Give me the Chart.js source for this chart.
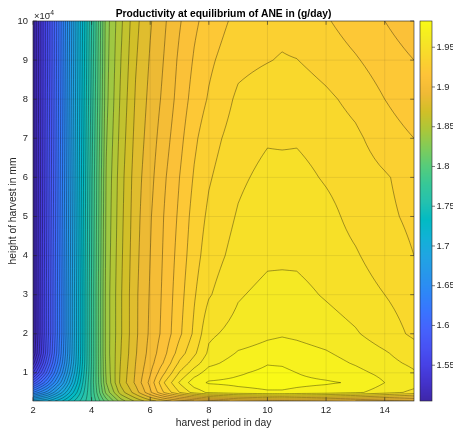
<!DOCTYPE html>
<html>
<head>
<meta charset="utf-8">
<script src="https://cdn.jsdelivr.net/npm/chart.js@4.4.1/dist/chart.umd.min.js"></script>
<style>
  body { margin: 0; background: #fff; }
  canvas { display: block; }
</style>
</head>
<body>
<canvas id="chart" width="453" height="428"></canvas>
<script>
// harvest period (day) along x, harvest height (x1e-4 mm) along y
const harvestPeriod = [2, 2.5, 3, 3.5, 4, 4.5, 5, 5.5, 6, 6.5, 7, 7.5, 8, 9, 10, 10.5, 11, 12, 13, 14, 15];
const harvestHeight = [0.28, 0.5, 0.75, 1, 1.25, 1.5, 2, 3, 4, 5, 6, 7, 8, 9, 10];

// productivity at equilibrium (g/day), one row per height, bottom to top
const productivity = [
  [1.700, 1.710, 1.730, 1.755, 1.780, 1.815, 1.845, 1.862, 1.876, 1.886, 1.895, 1.900, 1.905, 1.912, 1.915, 1.916, 1.915, 1.913, 1.910, 1.907, 1.905],
  [1.640, 1.665, 1.700, 1.740, 1.782, 1.833, 1.865, 1.885, 1.908, 1.932, 1.950, 1.964, 1.972, 1.977, 1.979, 1.979, 1.978, 1.976, 1.972, 1.965, 1.957],
  [1.590, 1.630, 1.675, 1.728, 1.783, 1.840, 1.873, 1.892, 1.913, 1.941, 1.961, 1.976, 1.981, 1.982, 1.983, 1.983, 1.982, 1.981, 1.979, 1.970, 1.965],
  [1.550, 1.605, 1.660, 1.720, 1.782, 1.842, 1.872, 1.891, 1.909, 1.930, 1.951, 1.965, 1.975, 1.979, 1.982, 1.982, 1.980, 1.977, 1.973, 1.967, 1.961],
  [1.525, 1.590, 1.650, 1.715, 1.781, 1.843, 1.871, 1.890, 1.906, 1.922, 1.942, 1.955, 1.967, 1.975, 1.9795, 1.979, 1.977, 1.974, 1.969, 1.963, 1.958],
  [1.510, 1.580, 1.645, 1.713, 1.781, 1.844, 1.870, 1.889, 1.904, 1.918, 1.935, 1.948, 1.962, 1.971, 1.974, 1.975, 1.974, 1.971, 1.966, 1.961, 1.955],
  [1.506, 1.576, 1.642, 1.712, 1.781, 1.844, 1.869, 1.888, 1.902, 1.914, 1.928, 1.942, 1.958, 1.964, 1.968, 1.969, 1.968, 1.965, 1.961, 1.955, 1.948],
  [1.505, 1.576, 1.642, 1.712, 1.781, 1.844, 1.869, 1.888, 1.901, 1.913, 1.926, 1.939, 1.949, 1.959, 1.963, 1.9635, 1.963, 1.959, 1.955, 1.950, 1.945],
  [1.505, 1.575, 1.641, 1.711, 1.780, 1.843, 1.868, 1.887, 1.900, 1.912, 1.924, 1.936, 1.945, 1.954, 1.958, 1.958, 1.958, 1.955, 1.951, 1.945, 1.940],
  [1.505, 1.574, 1.640, 1.710, 1.779, 1.842, 1.867, 1.886, 1.899, 1.911, 1.922, 1.934, 1.942, 1.951, 1.957, 1.9575, 1.957, 1.953, 1.947, 1.942, 1.938],
  [1.505, 1.573, 1.639, 1.709, 1.778, 1.841, 1.866, 1.885, 1.897, 1.909, 1.920, 1.931, 1.939, 1.948, 1.953, 1.9535, 1.953, 1.949, 1.945, 1.941, 1.936],
  [1.505, 1.572, 1.638, 1.708, 1.776, 1.839, 1.864, 1.883, 1.895, 1.906, 1.917, 1.928, 1.936, 1.945, 1.949, 1.9485, 1.949, 1.946, 1.942, 1.935, 1.930],
  [1.505, 1.571, 1.637, 1.707, 1.774, 1.837, 1.862, 1.881, 1.893, 1.903, 1.914, 1.924, 1.931, 1.942, 1.946, 1.9465, 1.946, 1.942, 1.937, 1.930, 1.924],
  [1.505, 1.570, 1.636, 1.706, 1.772, 1.836, 1.860, 1.879, 1.891, 1.901, 1.912, 1.921, 1.928, 1.937, 1.9395, 1.9408, 1.9402, 1.936, 1.931, 1.925, 1.920],
  [1.505, 1.570, 1.635, 1.705, 1.770, 1.835, 1.858, 1.877, 1.889, 1.899, 1.909, 1.918, 1.924, 1.933, 1.936, 1.937, 1.935, 1.931, 1.925, 1.920, 1.914]
];

const xTicks = [2, 4, 6, 8, 10, 12, 14];
const yTicks = [1, 2, 3, 4, 5, 6, 7, 8, 9, 10];
const colorbarTicks = [1.55, 1.6, 1.65, 1.7, 1.75, 1.8, 1.85, 1.9, 1.95];
const zMin = 1.505, zMax = 1.983;
const levels = [];
for (let k = 151; k <= 198; k++) levels.push(k / 100);

// parula(64), every 3rd row: [row index, r, g, b]
const parula = [
  [0, 0.2422, 0.1504, 0.6603], [3, 0.2647, 0.1978, 0.7952], [6, 0.2783, 0.2559, 0.8991],
  [9, 0.2810, 0.3228, 0.9579], [12, 0.2699, 0.3892, 0.9906], [15, 0.2206, 0.4603, 0.9973],
  [18, 0.1786, 0.5289, 0.9682], [21, 0.1540, 0.5902, 0.9218], [24, 0.1248, 0.6459, 0.8883],
  [27, 0.0689, 0.6948, 0.8394], [30, 0.0067, 0.7312, 0.7660], [33, 0.1408, 0.7584, 0.6842],
  [36, 0.2161, 0.7843, 0.5923], [39, 0.3406, 0.8008, 0.4789], [42, 0.5044, 0.7993, 0.3480],
  [45, 0.6720, 0.7793, 0.2227], [48, 0.8203, 0.7498, 0.1535], [51, 0.9393, 0.7288, 0.2100],
  [54, 0.9970, 0.7659, 0.2199], [57, 0.9786, 0.8386, 0.1766], [60, 0.9597, 0.9135, 0.1423],
  [63, 0.9769, 0.9839, 0.0805]
];

function parulaRGB(f) {
  const p = Math.min(63, Math.max(0, f * 63));
  let k = 0;
  while (k < parula.length - 2 && parula[k + 1][0] < p) k++;
  const a = parula[k], b = parula[k + 1];
  const t = (p - a[0]) / (b[0] - a[0]);
  return [1, 2, 3].map(c => Math.round(255 * (a[c] + (b[c] - a[c]) * t)));
}

function locate(arr, v) {
  const n = arr.length - 1;
  if (v <= arr[0]) return [0, 0];
  if (v >= arr[n]) return [n - 1, 1];
  let i = 0;
  while (arr[i + 1] < v) i++;
  return [i, (v - arr[i]) / (arr[i + 1] - arr[i])];
}

function sample(xv, yv) {
  const [i, tx] = locate(harvestPeriod, xv);
  const [j, ty] = locate(harvestHeight, yv);
  const r0 = productivity[j], r1 = productivity[j + 1];
  return (r0[i] * (1 - tx) + r0[i + 1] * tx) * (1 - ty) + (r1[i] * (1 - tx) + r1[i + 1] * tx) * ty;
}

function bandRGB(z) {
  let lv = zMin;
  for (const L of levels) if (z >= L) lv = L;
  return parulaRGB((lv - zMin) / (zMax - zMin));
}

const ink = '#262626';
const fontFamily = '"Liberation Sans", Arial, Helvetica, sans-serif';

const contourPlugin = {
  id: 'contourf',
  beforeDatasetsDraw(chart) {
    const { ctx, chartArea: a, scales: { x, y } } = chart;
    const left = Math.round(a.left), top = Math.round(a.top);
    const w = Math.round(a.right) - left, h = Math.round(a.bottom) - top;
    const img = ctx.createImageData(w, h);
    const xs = [];
    for (let px = 0; px < w; px++) xs.push(x.getValueForPixel(left + px + 0.5));
    for (let py = 0; py < h; py++) {
      const yv = y.getValueForPixel(top + py + 0.5);
      for (let px = 0; px < w; px++) {
        const c = bandRGB(sample(xs[px], yv));
        const o = (py * w + px) * 4;
        img.data[o] = c[0]; img.data[o + 1] = c[1]; img.data[o + 2] = c[2]; img.data[o + 3] = 255;
      }
    }
    ctx.putImageData(img, left, top);
  },
  afterDatasetsDraw(chart) {
    const { ctx, chartArea: a, scales: { x, y } } = chart;
    const S = 6;
    ctx.save();
    ctx.beginPath();
    ctx.rect(a.left, a.top, a.right - a.left, a.bottom - a.top);
    ctx.clip();

    // contour lines (marching squares on a refined grid)
    ctx.beginPath();
    for (let j = 0; j < harvestHeight.length - 1; j++) {
      for (let i = 0; i < harvestPeriod.length - 1; i++) {
        const xa = harvestPeriod[i], xb = harvestPeriod[i + 1];
        const ya = harvestHeight[j], yb = harvestHeight[j + 1];
        const z00 = productivity[j][i], z10 = productivity[j][i + 1];
        const z01 = productivity[j + 1][i], z11 = productivity[j + 1][i + 1];
        const f = (u, v) => (z00 * (1 - u) + z10 * u) * (1 - v) + (z01 * (1 - u) + z11 * u) * v;
        for (let sj = 0; sj < S; sj++) {
          for (let si = 0; si < S; si++) {
            const u0 = si / S, u1 = (si + 1) / S, v0 = sj / S, v1 = (sj + 1) / S;
            const P = [
              [xa + (xb - xa) * u0, ya + (yb - ya) * v0, f(u0, v0)],
              [xa + (xb - xa) * u1, ya + (yb - ya) * v0, f(u1, v0)],
              [xa + (xb - xa) * u1, ya + (yb - ya) * v1, f(u1, v1)],
              [xa + (xb - xa) * u0, ya + (yb - ya) * v1, f(u0, v1)]
            ];
            const lo = Math.min(P[0][2], P[1][2], P[2][2], P[3][2]);
            const hi = Math.max(P[0][2], P[1][2], P[2][2], P[3][2]);
            for (const L of levels) {
              if (L <= lo || L > hi) continue;
              const up = P.map(p => p[2] >= L);
              const cross = [];
              for (let e = 0; e < 4; e++) {
                const p = P[e], q = P[(e + 1) % 4];
                if (up[e] !== up[(e + 1) % 4]) {
                  const t = (L - p[2]) / (q[2] - p[2]);
                  cross[e] = [x.getPixelForValue(p[0] + (q[0] - p[0]) * t), y.getPixelForValue(p[1] + (q[1] - p[1]) * t)];
                }
              }
              const ids = [0, 1, 2, 3].filter(e => cross[e]);
              let pairs = [];
              if (ids.length === 2) pairs = [ids];
              else if (ids.length === 4) {
                const zc = (P[0][2] + P[1][2] + P[2][2] + P[3][2]) / 4;
                pairs = ((zc >= L) === up[0]) ? [[0, 1], [2, 3]] : [[3, 0], [1, 2]];
              }
              for (const [m, n] of pairs) {
                ctx.moveTo(cross[m][0], cross[m][1]);
                ctx.lineTo(cross[n][0], cross[n][1]);
              }
            }
          }
        }
      }
    }
    ctx.strokeStyle = 'rgba(0,0,0,0.65)';
    ctx.lineWidth = 0.55;
    ctx.stroke();

    // grid
    ctx.beginPath();
    for (const t of xTicks) {
      const px = x.getPixelForValue(t);
      ctx.moveTo(px, a.top); ctx.lineTo(px, a.bottom);
    }
    for (const t of yTicks) {
      const py = y.getPixelForValue(t);
      ctx.moveTo(a.left, py); ctx.lineTo(a.right, py);
    }
    ctx.strokeStyle = 'rgba(38,38,38,0.15)';
    ctx.lineWidth = 0.6;
    ctx.stroke();
    ctx.restore();

    // box and inward ticks
    ctx.save();
    ctx.strokeStyle = ink;
    ctx.lineWidth = 0.6;
    ctx.strokeRect(a.left, a.top, a.right - a.left, a.bottom - a.top);
    ctx.beginPath();
    const tl = 3.8;
    for (const t of xTicks) {
      const px = x.getPixelForValue(t);
      ctx.moveTo(px, a.bottom); ctx.lineTo(px, a.bottom - tl);
      ctx.moveTo(px, a.top); ctx.lineTo(px, a.top + tl);
    }
    for (const t of yTicks) {
      const py = y.getPixelForValue(t);
      ctx.moveTo(a.left, py); ctx.lineTo(a.left + tl, py);
      ctx.moveTo(a.right, py); ctx.lineTo(a.right - tl, py);
    }
    ctx.stroke();

    // colorbar
    const cbL = 420, cbR = 432, cbT = a.top, cbB = a.bottom;
    const cbY = v => cbB - (v - zMin) / (zMax - zMin) * (cbB - cbT);
    for (let py = Math.floor(cbT); py < cbB; py++) {
      const v = zMin + (cbB - (py + 0.5)) / (cbB - cbT) * (zMax - zMin);
      const c = parulaRGB((v - zMin) / (zMax - zMin));
      ctx.fillStyle = `rgb(${c[0]},${c[1]},${c[2]})`;
      ctx.fillRect(cbL, py, cbR - cbL, 1);
    }
    ctx.strokeRect(cbL, cbT, cbR - cbL, cbB - cbT);
    ctx.beginPath();
    for (const t of colorbarTicks) {
      ctx.moveTo(cbR, cbY(t)); ctx.lineTo(cbR + 3, cbY(t));
    }
    ctx.stroke();
    ctx.fillStyle = ink;
    ctx.font = `9.4px ${fontFamily}`;
    ctx.textAlign = 'left';
    ctx.textBaseline = 'middle';
    for (const t of colorbarTicks) ctx.fillText(t.toFixed(2).replace(/0$/, ''), cbR + 4.5, cbY(t));

    // titles
    ctx.textBaseline = 'alphabetic';
    ctx.textAlign = 'center';
    ctx.font = `bold 10.3px ${fontFamily}`;
    ctx.fillStyle = '#000';
    ctx.fillText('Productivity at equilibrium of ANE in (g/day)', (a.left + a.right) / 2, 16.8);
    ctx.fillStyle = ink;
    ctx.font = `10.3px ${fontFamily}`;
    ctx.fillText('harvest period in day', (a.left + a.right) / 2, 425.5);
    ctx.save();
    ctx.translate(16, (a.top + a.bottom) / 2);
    ctx.rotate(-Math.PI / 2);
    ctx.fillText('height of harvest in mm', 0, 0);
    ctx.restore();

    // exponent
    ctx.textAlign = 'left';
    ctx.font = `9.4px ${fontFamily}`;
    ctx.fillText('\u00d710', a.left + 1, 19);
    ctx.font = `6.8px ${fontFamily}`;
    ctx.fillText('-4', a.left + 15, 14.5);
    ctx.restore();
  }
};

const nodes = [];
harvestHeight.forEach((hv, j) => harvestPeriod.forEach((pv, i) => nodes.push({ x: pv, y: hv, z: productivity[j][i] })));

new Chart(document.getElementById('chart'), {
  type: 'scatter',
  data: { datasets: [{ data: nodes, pointRadius: 0, pointHoverRadius: 0 }] },
  options: {
    responsive: false,
    animation: false,
    devicePixelRatio: 1,
    layout: { padding: { left: 0, top: 21, right: 39, bottom: 0 } },
    plugins: { legend: { display: false }, tooltip: { enabled: false }, title: { display: false } },
    events: [],
    scales: {
      x: {
        type: 'linear', min: 2, max: 15,
        afterBuildTicks: s => { s.ticks = xTicks.map(v => ({ value: v })); },
        afterFit: s => { s.height = 27; },
        grid: { display: false, drawTicks: false },
        border: { display: false },
        ticks: { padding: 4, color: ink, font: { family: fontFamily, size: 9.4 }, maxRotation: 0, autoSkip: false }
      },
      y: {
        type: 'linear', min: 0.28, max: 10,
        afterBuildTicks: s => { s.ticks = yTicks.map(v => ({ value: v })); },
        afterFit: s => { s.width = 33; },
        grid: { display: false, drawTicks: false },
        border: { display: false },
        ticks: { padding: 5, color: ink, font: { family: fontFamily, size: 9.4 }, autoSkip: false }
      }
    }
  },
  plugins: [contourPlugin]
});
</script>
</body>
</html>
